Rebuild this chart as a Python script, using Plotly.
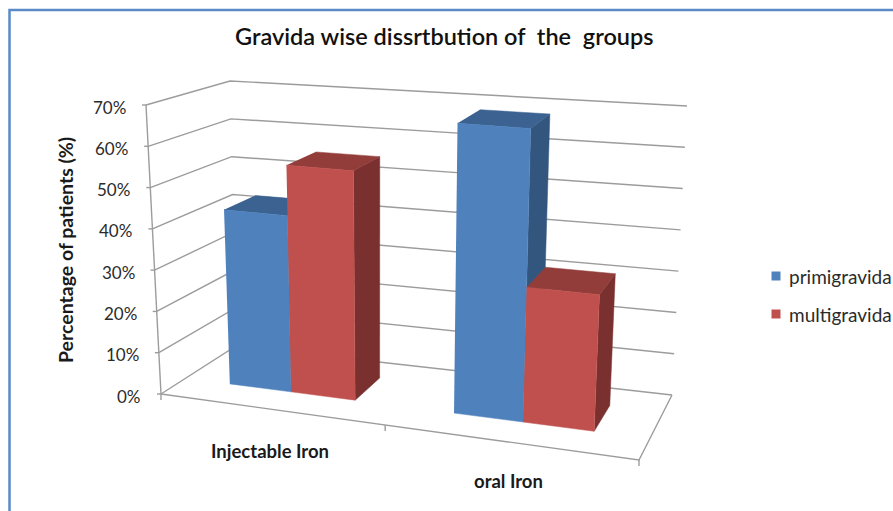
import plotly.graph_objects as go

# ---- data ----
categories = ["Injectable Iron", "oral Iron"]
series_names = ["primigravida", "multigravida"]
primigravida = [43, 68.6]
multigravida = [55.3, 31.5]
value_ticks = [0, 10, 20, 30, 40, 50, 60, 70]
title_text = "Gravida wise dissrtbution of&nbsp; the&nbsp; groups"
y_title = "Percentage of patients (%)"

# ---- styles ----
FRONT = ["#4F81BD", "#C0504D"]
TOP = ["#3B6291", "#923D3A"]
SIDE = ["#33567F", "#7A302E"]
GRID = "#9C9C9C"
TEXT = "#2B2B2B"
FONT = "Lato"

# ---- oblique projection of the chart box onto the page ----
# corners: (across, depth, value fraction) -> page pixel
C000, C100, C010, C110 = (161, 394), (639, 460), (236, 346), (672, 395)
C001, C101, C011, C111 = (146, 105), (654, 145), (230, 81), (687, 106)
VMAX = 70


def proj(u, d, v):
    w = v / VMAX
    out = []
    for i in range(2):
        a = C000[i] * (1 - u) + C100[i] * u
        b = C010[i] * (1 - u) + C110[i] * u
        c = C001[i] * (1 - u) + C101[i] * u
        e = C011[i] * (1 - u) + C111[i] * u
        low = a * (1 - d) + b * d
        high = c * (1 - d) + e * d
        out.append(low * (1 - w) + high * w)
    return out


BAR_EDGES = [(0.095, 0.227, 0.365), (0.578, 0.727, 0.88)]
D0, D1 = 0.33, 0.74
CATEGORY_TICKS = [0, 0.469, 1]

fig = go.Figure()


def line(pts, width=1.4, color=GRID):
    fig.add_trace(go.Scatter(
        x=[p[0] for p in pts], y=[p[1] for p in pts], mode="lines",
        line=dict(color=color, width=width), hoverinfo="skip", showlegend=False))


def face(pts, color, name):
    fig.add_trace(go.Scatter(
        x=[p[0] for p in pts], y=[p[1] for p in pts], mode="lines", fill="toself",
        fillcolor=color, line=dict(color=color, width=0.5), name=name,
        hoverinfo="skip", showlegend=False))


# walls and gridlines
for t in value_ticks:
    line([proj(0, 0, t), proj(0, 1, t), proj(1, 1, t)])
    a = proj(0, 0, t)
    line([[a[0] - 4, a[1]], a])
line([proj(0, 0, 0), proj(0, 0, VMAX)])
line([proj(0, 0, 0), proj(1, 0, 0), proj(1, 1, 0)])
for u in CATEGORY_TICKS:
    a = proj(u, 0, 0)
    line([a, [a[0], a[1] + 6]])

# bars
values = [primigravida, multigravida]
for c, edges in enumerate(BAR_EDGES):
    for s in range(2):
        u0, u1, v = edges[s], edges[s + 1], values[s][c]
        face([proj(u1, D0, 0), proj(u1, D1, 0), proj(u1, D1, v), proj(u1, D0, v)],
             SIDE[s], series_names[s])
        face([proj(u0, D0, v), proj(u1, D0, v), proj(u1, D1, v), proj(u0, D1, v)],
             TOP[s], series_names[s])
        face([proj(u0, D0, 0), proj(u1, D0, 0), proj(u1, D0, v), proj(u0, D0, v)],
             FRONT[s], series_names[s])

ann = []
for t in value_ticks:
    a = proj(0, 0, t)
    ann.append(dict(x=a[0] - 18, y=a[1] + 2, text=f"{t}%", xanchor="right", yanchor="middle",
                    showarrow=False, font=dict(family=FONT, size=17, color=TEXT)))
for label, pos in zip(categories, [(270, 451), (508, 481)]):
    ann.append(dict(x=pos[0], y=pos[1], text=f"<b>{label}</b>", xanchor="center", yanchor="middle",
                    showarrow=False, font=dict(family=FONT, size=18.5, color="#1A1A1A")))
ann.append(dict(x=444, y=36, text=title_text, xanchor="center", yanchor="middle", showarrow=False,
                font=dict(family=FONT, size=23.5, weight=600, color="#111111")))
ann.append(dict(x=65, y=250, text=f"<b>{y_title}</b>", textangle=-90, xanchor="center",
                yanchor="middle", showarrow=False, font=dict(family=FONT, size=19.5, color="#1A1A1A")))

# legend
for name, color, y in zip(series_names, FRONT, [276, 314]):
    fig.add_trace(go.Scatter(x=[776], y=[y], mode="markers", marker=dict(symbol="square", size=9, color=color),
                             name=name, hoverinfo="skip", showlegend=False))
    ann.append(dict(x=787, y=y, text=name, xanchor="left", yanchor="middle", showarrow=False,
                    font=dict(family=FONT, size=19, color=TEXT)))

fig.update_layout(
    width=893, height=511, margin=dict(l=0, r=0, t=0, b=0),
    paper_bgcolor="white", plot_bgcolor="white", showlegend=False,
    xaxis=dict(range=[0, 893], visible=False, fixedrange=True),
    yaxis=dict(range=[511, 0], visible=False, fixedrange=True),
    annotations=ann,
    shapes=[dict(type="rect", xref="x", yref="y", x0=9.5, y0=10, x1=900, y1=520,
                 line=dict(color="#5B8BC6", width=2.5), layer="below")],
)
fig.write_html("out.html", config={"displayModeBar": False},
               post_script="document.body.style.margin='0';document.documentElement.style.overflow='hidden';")
